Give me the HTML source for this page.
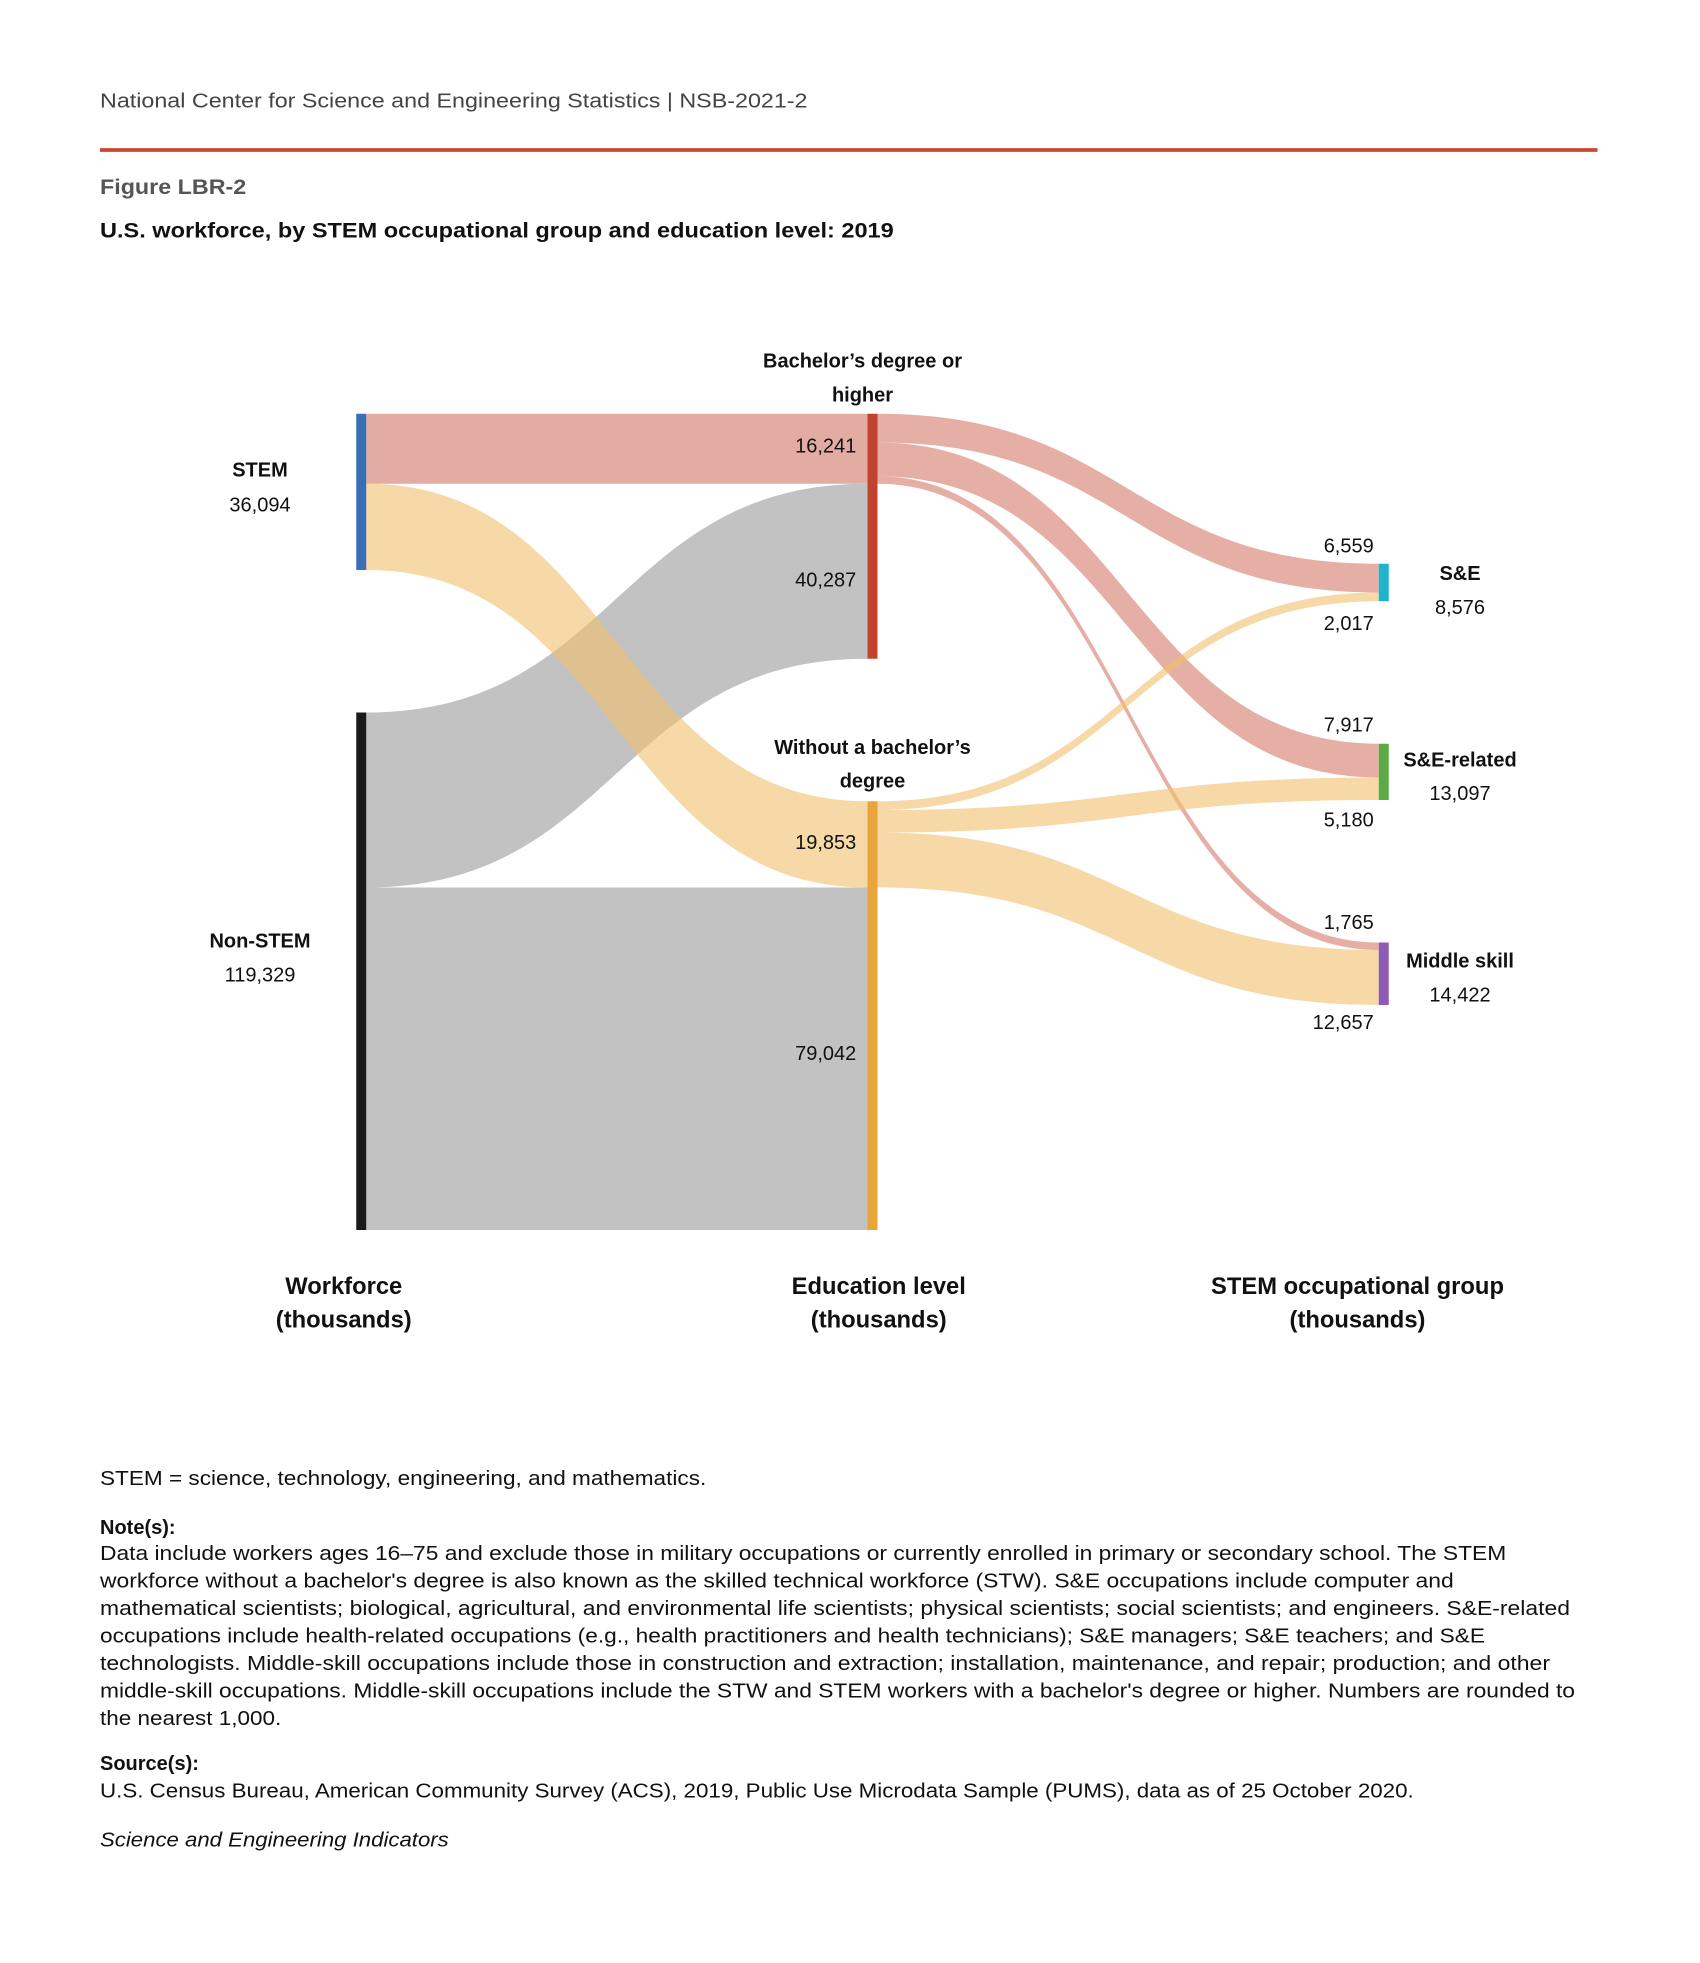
<!DOCTYPE html>
<html><head><meta charset="utf-8"><style>html,body{margin:0;padding:0;background:#fff}svg{display:block}text{font-family:"Liberation Sans",sans-serif}</style></head><body>
<svg width="1700" height="1963" viewBox="0 0 1360 1570.4" xmlns="http://www.w3.org/2000/svg">
<text x="80" y="86" font-size="16" fill="#444" textLength="566" lengthAdjust="spacingAndGlyphs">National Center for Science and Engineering Statistics  |  NSB-2021-2</text>
<rect x="80" y="118.5" width="1198" height="3" fill="#c9472e"/>
<text x="80" y="155" font-size="17" font-weight="bold" fill="#555" textLength="117" lengthAdjust="spacingAndGlyphs">Figure LBR-2</text>
<text x="80" y="190" font-size="17" font-weight="bold" fill="#111" textLength="635" lengthAdjust="spacingAndGlyphs">U.S. workforce, by STEM occupational group and education level: 2019</text>

<!-- flows -->
<g>
<path d="M293,331 L694,331 L694,387 L293,387 Z" fill="#e3aca2"/>
<path d="M293,710 L694,710 L694,984 L293,984 Z" fill="#c2c2c2"/>
<path d="M293,570 C493,570 494,387 694,387 L694,527 C494,527 493,710 293,710 Z" fill="#9a9a9a" fill-opacity="0.6"/>
<path d="M293,387 C493,387 494,641 694,641 L694,710 C494,710 493,456 293,456 Z" fill="#f2bf6c" fill-opacity="0.6"/>
<path d="M702,331 C902,331 903,451 1103,451 L1103,474 C903,474 902,354 702,354 Z" fill="#d5796a" fill-opacity="0.6"/>
<path d="M702,354 C902,354 903,595 1103,595 L1103,622 C903,622 902,381 702,381 Z" fill="#d5796a" fill-opacity="0.6"/>
<path d="M702,381 C902,381 903,754 1103,754 L1103,760 C903,760 902,387 702,387 Z" fill="#d5796a" fill-opacity="0.6"/>
<path d="M702,641 C902,641 903,474 1103,474 L1103,481 C903,481 902,648 702,648 Z" fill="#f2bf6c" fill-opacity="0.6"/>
<path d="M702,648 C902,648 903,622 1103,622 L1103,640 C903,640 902,666 702,666 Z" fill="#f2bf6c" fill-opacity="0.6"/>
<path d="M702,666 C902,666 903,760 1103,760 L1103,804 C903,804 902,710 702,710 Z" fill="#f2bf6c" fill-opacity="0.6"/>
</g>
<!-- nodes -->
<rect x="285" y="331" width="8" height="125" fill="#3a6fb5"/>
<rect x="285" y="570" width="8" height="414" fill="#1a1a1a"/>
<rect x="694" y="331" width="8" height="196" fill="#c0432e"/>
<rect x="694" y="641" width="8" height="343" fill="#e8a53a"/>
<rect x="1103" y="451" width="8" height="30" fill="#1fb3cc"/>
<rect x="1103" y="595" width="8" height="45" fill="#5aaa46"/>
<rect x="1103" y="754" width="8" height="50" fill="#8e5cb5"/>

<g font-size="16" fill="#111" text-anchor="middle">
<text x="208" y="381" font-weight="bold">STEM</text>
<text x="208" y="409">36,094</text>
<text x="208" y="758" font-weight="bold">Non-STEM</text>
<text x="208" y="785">119,329</text>
<text x="690" y="294" font-weight="bold">Bachelor’s degree or</text>
<text x="690" y="321" font-weight="bold">higher</text>
<text x="698" y="603" font-weight="bold">Without a bachelor’s</text>
<text x="698" y="630" font-weight="bold">degree</text>
<text x="1168" y="464" font-weight="bold">S&amp;E</text>
<text x="1168" y="491">8,576</text>
<text x="1168" y="613" font-weight="bold">S&amp;E-related</text>
<text x="1168" y="640">13,097</text>
<text x="1168" y="774" font-weight="bold">Middle skill</text>
<text x="1168" y="801">14,422</text>
</g>
<g font-size="16" fill="#111" text-anchor="end">
<text x="685" y="362">16,241</text>
<text x="685" y="469">40,287</text>
<text x="685" y="679">19,853</text>
<text x="685" y="848">79,042</text>
<text x="1099" y="442">6,559</text>
<text x="1099" y="504">2,017</text>
<text x="1099" y="585">7,917</text>
<text x="1099" y="661">5,180</text>
<text x="1099" y="743">1,765</text>
<text x="1099" y="823">12,657</text>
</g>
<g font-size="19" font-weight="bold" fill="#111" text-anchor="middle">
<text x="275" y="1035">Workforce</text>
<text x="275" y="1062">(thousands)</text>
<text x="703" y="1035">Education level</text>
<text x="703" y="1062">(thousands)</text>
<text x="1086" y="1035">STEM occupational group</text>
<text x="1086" y="1062">(thousands)</text>
</g>
<g font-size="16" fill="#111">
<text x="80" y="1188" textLength="485" lengthAdjust="spacingAndGlyphs">STEM = science, technology, engineering, and mathematics.</text>
<text x="80" y="1227" font-weight="bold">Note(s):</text>
<text x="80" y="1248" textLength="1125" lengthAdjust="spacingAndGlyphs">Data include workers ages 16–75 and exclude those in military occupations or currently enrolled in primary or secondary school. The STEM</text>
<text x="80" y="1270" textLength="1083" lengthAdjust="spacingAndGlyphs">workforce without a bachelor's degree is also known as the skilled technical workforce (STW). S&amp;E occupations include computer and</text>
<text x="80" y="1292" textLength="1176" lengthAdjust="spacingAndGlyphs">mathematical scientists; biological, agricultural, and environmental life scientists; physical scientists; social scientists; and engineers. S&amp;E-related</text>
<text x="80" y="1314" textLength="1108" lengthAdjust="spacingAndGlyphs">occupations include health-related occupations (e.g., health practitioners and health technicians); S&amp;E managers; S&amp;E teachers; and S&amp;E</text>
<text x="80" y="1336" textLength="1160" lengthAdjust="spacingAndGlyphs">technologists. Middle-skill occupations include those in construction and extraction; installation, maintenance, and repair; production; and other</text>
<text x="80" y="1358" textLength="1180" lengthAdjust="spacingAndGlyphs">middle-skill occupations. Middle-skill occupations include the STW and STEM workers with a bachelor's degree or higher. Numbers are rounded to</text>
<text x="80" y="1380" textLength="145" lengthAdjust="spacingAndGlyphs">the nearest 1,000.</text>
<text x="80" y="1416" font-weight="bold">Source(s):</text>
<text x="80" y="1438" textLength="1051" lengthAdjust="spacingAndGlyphs">U.S. Census Bureau, American Community Survey (ACS), 2019, Public Use Microdata Sample (PUMS), data as of 25 October 2020.</text>
<text x="80" y="1477" font-style="italic" textLength="279" lengthAdjust="spacingAndGlyphs">Science and Engineering Indicators</text>
</g>
</svg>
</body></html>
